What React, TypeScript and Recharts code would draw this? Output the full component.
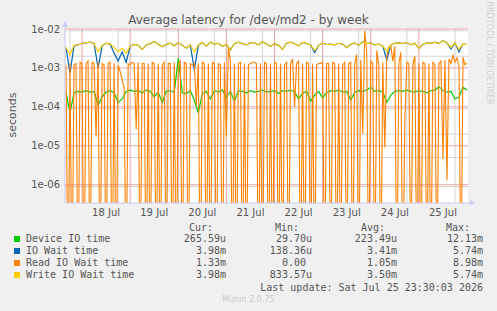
import { LineChart, Line, XAxis, YAxis, CartesianGrid } from "recharts";

// hours are counted from 18 Jul 00:00
const START_HOUR = -8;
const dayLabels = ["18 Jul", "19 Jul", "20 Jul", "21 Jul", "22 Jul", "23 Jul", "24 Jul", "25 Jul"];
const yTicks = [1e-6, 1e-5, 1e-4, 1e-3, 1e-2];

// 2-hour samples
const deviceIO = [
  2.4e-4, 7e-5, 2.3e-4, 2.5e-4, 2.4e-4, 2.6e-4, 2.4e-4, 2.5e-4, 1.1e-4, 1.8e-4,
  2.4e-4, 2.6e-4, 2.3e-4, 1.3e-4, 1.6e-4, 2.5e-4, 2.7e-4, 2.5e-4, 2.6e-4, 2.3e-4,
  2.7e-4, 2.5e-4, 1.8e-4, 2.4e-4, 1.3e-4, 2.5e-4, 2.6e-4, 2.4e-4, 1.8e-3, 2.3e-4,
  2.2e-4, 2.6e-4, 1.5e-4, 7e-5, 2.2e-4, 2.5e-4, 1.6e-4, 2.6e-4, 2.4e-4, 2.7e-4,
  1.8e-4, 2.5e-4, 1.4e-4, 2.6e-4, 2.5e-4, 2.3e-4, 2.6e-4, 2.4e-4, 2.5e-4, 2.7e-4,
  2.4e-4, 2.5e-4, 2.6e-4, 2.2e-4, 2.6e-4, 2.5e-4, 2.7e-4, 2.4e-4, 1.6e-4, 2.2e-4,
  2.5e-4, 1.4e-4, 2.0e-4, 2.5e-4, 1.7e-4, 2.3e-4, 2.6e-4, 2.5e-4, 2.7e-4, 2.4e-4,
  2.5e-4, 1.5e-4, 2.3e-4, 2.6e-4, 2.5e-4, 2.7e-4, 3.2e-4, 2.5e-4, 2.6e-4, 2.4e-4,
  1.3e-4, 2.0e-4, 2.5e-4, 2.6e-4, 2.5e-4, 2.7e-4, 2.5e-4, 2.4e-4, 2.6e-4, 2.5e-4,
  2.3e-4, 2.6e-4, 2.7e-4, 3.3e-4, 2.6e-4, 2.4e-4, 2.5e-4, 1.6e-4, 1.8e-4, 3.2e-4,
  2.7e-4,
];

const ioWait = [
  3.3e-3, 7.5e-4, 3.7e-3, 3.9e-3, 4.3e-3, 4.4e-3, 4.6e-3, 4.2e-3, 1.0e-3, 3.7e-3,
  4.3e-3, 4.1e-3, 2.4e-3, 1.5e-3, 2.6e-3, 1.4e-3, 3.6e-3, 4.0e-3, 3.8e-3, 3.0e-3,
  3.9e-3, 4.2e-3, 4.8e-3, 4.1e-3, 3.5e-3, 4.0e-3, 4.3e-3, 3.7e-3, 4.4e-3, 3.8e-3,
  3.2e-3, 3.9e-3, 9e-4, 3.8e-3, 4.5e-3, 3.6e-3, 4.6e-3, 4.1e-3, 4.3e-3, 3.6e-3,
  4.0e-3, 2.9e-3, 4.2e-3, 4.6e-3, 4.2e-3, 3.9e-3, 4.4e-3, 4.5e-3, 3.9e-3, 4.7e-3,
  4.1e-3, 3.6e-3, 4.2e-3, 3.8e-3, 3.0e-3, 4.3e-3, 4.6e-3, 4.1e-3, 3.7e-3, 4.5e-3,
  4.2e-3, 3.9e-3, 2.5e-3, 3.8e-3, 4.4e-3, 4.0e-3, 4.1e-3, 3.9e-3, 4.3e-3, 4.1e-3,
  3.3e-3, 4.0e-3, 4.4e-3, 3.8e-3, 4.7e-3, 4.2e-3, 4.4e-3, 3.9e-3, 4.1e-3, 3.6e-3,
  1.6e-3, 3.9e-3, 4.3e-3, 4.4e-3, 4.2e-3, 4.5e-3, 3.9e-3, 4.3e-3, 3.2e-3, 4.0e-3,
  4.4e-3, 4.3e-3, 4.6e-3, 4.2e-3, 5.0e-3, 4.4e-3, 3.1e-3, 4.4e-3, 2.6e-3, 4.1e-3,
  4.0e-3,
];

const writeIO = [
  3.4e-3, 2.2e-3, 3.8e-3, 3.9e-3, 4.3e-3, 4.4e-3, 4.6e-3, 4.2e-3, 2.6e-3, 3.8e-3,
  4.3e-3, 4.1e-3, 3.4e-3, 2.6e-3, 3.2e-3, 2.4e-3, 3.6e-3, 4.0e-3, 3.8e-3, 3.0e-3,
  3.9e-3, 4.2e-3, 4.8e-3, 4.1e-3, 3.5e-3, 4.0e-3, 4.3e-3, 3.7e-3, 4.4e-3, 3.8e-3,
  3.2e-3, 3.9e-3, 2.6e-3, 3.9e-3, 4.5e-3, 3.6e-3, 4.6e-3, 4.1e-3, 4.3e-3, 3.6e-3,
  4.0e-3, 2.9e-3, 4.2e-3, 4.6e-3, 4.2e-3, 3.9e-3, 4.4e-3, 4.5e-3, 3.9e-3, 4.7e-3,
  4.1e-3, 3.6e-3, 4.2e-3, 3.8e-3, 3.0e-3, 4.3e-3, 4.6e-3, 4.1e-3, 3.7e-3, 4.5e-3,
  4.2e-3, 3.9e-3, 2.8e-3, 3.8e-3, 4.4e-3, 4.0e-3, 4.1e-3, 3.9e-3, 4.3e-3, 4.1e-3,
  3.3e-3, 4.0e-3, 4.4e-3, 3.8e-3, 4.7e-3, 4.2e-3, 4.4e-3, 3.9e-3, 4.1e-3, 3.6e-3,
  2.7e-3, 3.9e-3, 4.3e-3, 4.4e-3, 4.2e-3, 4.5e-3, 3.9e-3, 4.3e-3, 3.2e-3, 4.0e-3,
  4.4e-3, 4.3e-3, 4.6e-3, 4.2e-3, 5.0e-3, 4.4e-3, 3.4e-3, 4.4e-3, 3.0e-3, 4.1e-3,
  4.0e-3,
];

// 1-hour samples
const readIO = [
  1.2e-3, 0, 1.3e-3, 0, 1.2e-3, 1.3e-3, 0, 1.4e-3, 1.3e-3, 0, 1.3e-3, 1.5e-3, 0, 1.4e-3, 1.3e-3, 1.7e-5, 1.4e-3, 0, 1.3e-3, 1.2e-3,
  0, 1.3e-3, 1.4e-3, 0, 1.3e-3, 0, 1.2e-3, 8e-4, 5e-4, 3e-4, 0, 1.3e-3, 1.2e-3, 1.4e-3, 1.3e-3, 2.6e-5, 1.4e-3, 0, 1.3e-3, 1.3e-3,
  0, 1.3e-3, 0, 1.4e-3, 1.3e-3, 0, 1.3e-3, 0, 1.2e-3, 1.4e-3, 0, 1.3e-3, 1.3e-3, 0, 1.4e-3, 0, 1.3e-3, 1.5e-3, 0, 1.4e-3,
  1.3e-3, 0, 1.3e-3, 1.2e-3, 1.3e-3, 1.1e-4, 1.3e-3, 0, 1.4e-3, 1.3e-3, 0, 1.3e-3, 0, 1.4e-3, 1.3e-3, 0, 1.3e-3, 1.2e-3, 0, 1.4e-3,
  1.7e-5, 3.5e-3, 1.5e-3, 0, 1.3e-3, 0, 1.3e-3, 1.4e-3, 0, 1.3e-3, 0, 1.2e-3, 1.3e-3, 1.4e-3, 1.4e-3, 1.3e-3, 0, 1.3e-3, 0, 1.4e-3,
  1.3e-3, 0, 1.3e-3, 0, 1.4e-3, 1.3e-3, 0, 1.3e-3, 0, 1.2e-3, 1.4e-3, 0, 1.3e-3, 1.7e-3, 1.0e-4, 1.3e-3, 1.5e-3, 0, 1.3e-3, 0,
  1.4e-3, 1.3e-3, 0, 1.3e-3, 0, 1.2e-3, 1.3e-3, 1.3e-3, 1.4e-3, 0, 1.3e-3, 1.3e-3, 0, 1.4e-3, 1.3e-3, 0, 1.3e-3, 0, 1.2e-3, 1.4e-3,
  0, 1.3e-3, 1.4e-3, 0, 1.3e-3, 2.2e-3, 0, 1.6e-3, 2.0e-5, 8.9e-3, 2.5e-3, 0, 1.5e-3, 1.3e-3, 0, 2.8e-3, 1.2e-3, 0, 1.4e-3, 9e-6,
  2.0e-3, 3.5e-3, 3.8e-3, 1.5e-3, 3.6e-3, 0, 1.3e-3, 2.5e-3, 0, 4.6e-5, 1.4e-3, 1.3e-3, 0, 1.2e-3, 2.0e-3, 0, 1.3e-3, 0, 1.4e-3, 1.3e-3,
  0, 1.3e-3, 0, 1.4e-3, 1.2e-3, 0, 1.3e-3, 1.5e-3, 4.6e-6, 1.6e-3, 1.3e-6, 1.7e-3, 1.3e-3, 2.1e-3, 1.4e-3, 1.8e-3, 1.1e-3, 0, 1.9e-3, 1.2e-3,
  1.33e-3,
];

const legendRows = [
  { name: "Device IO time", color: "#00cc00", cur: "265.59u", min: "29.70u", avg: "223.49u", max: "12.13m" },
  { name: "IO Wait time", color: "#0066b3", cur: "3.98m", min: "138.36u", avg: "3.41m", max: "5.74m" },
  { name: "Read IO Wait time", color: "#ff8000", cur: "1.33m", min: "0.00 ", avg: "1.05m", max: "8.98m" },
  { name: "Write IO Wait time", color: "#ffcc00", cur: "3.98m", min: "833.57u", avg: "3.50m", max: "5.74m" },
];

const FLOOR = 1e-9; // zero can't go on a log axis, push it off the bottom
const Y_MIN = 3.4e-7;
const X_DOMAIN = [-8.5, 192.5];

// one row per hour; the 2-hour series fill every other row
const table = readIO.map((v, i) => {
  const row: Record<string, number> = { h: START_HOUR + i, rd: v > 0 ? v : FLOOR };
  if (i % 2 === 0) {
    row.dev = deviceIO[i / 2];
    row.io = ioWait[i / 2];
    row.wr = writeIO[i / 2];
  }
  return row;
});

const minorY: number[] = [];
for (let d = -7; d <= -3; d++) {
  for (let m = 2; m <= 9; m++) {
    const v = m * Math.pow(10, d);
    if (v > Y_MIN && v < 1e-2) minorY.push(v);
  }
}
const minorX: number[] = [];
for (let h = -6; h <= 192; h += 6) if (h % 24 !== 0) minorX.push(h);
const majorX = dayLabels.map((_, i) => i * 24);
const labelX = dayLabels.map((_, i) => i * 24 + 12);

const fmtY = (v: number) => "1e-" + String(Math.round(-Math.log10(v))).padStart(2, "0");
const fmtX = (v: number) => dayLabels[Math.round((v - 12) / 24)] ?? "";

const sans = "'DejaVu Sans', sans-serif";
const mono = "'DejaVu Sans Mono', monospace";
const txt = "#555";

function Cell({ right, top, text }: { right: number; top: number; text: string }) {
  return (
    <div style={{ position: "absolute", right: 497 - right, top, whiteSpace: "pre", lineHeight: "12px" }}>{text}</div>
  );
}

export default function App() {
  const rowTop = [233, 245, 257, 269];
  return (
    <div style={{ position: "absolute", left: 0, top: 0, width: 497, height: 311, background: "#f0f0f0", overflow: "hidden" }}>
      <LineChart width={497} height={311} data={table} margin={{ top: 29, right: 29, bottom: 0, left: 0 }}>
        <CartesianGrid fill="#ffffff" stroke="#d4d4d4" horizontalValues={minorY} verticalValues={minorX} />
        <CartesianGrid stroke="#e6a4a4" horizontalValues={yTicks} verticalValues={majorX} />
        <XAxis
          dataKey="h"
          type="number"
          domain={X_DOMAIN}
          ticks={labelX}
          tickFormatter={fmtX}
          height={108}
          tickLine={false}
          tickSize={6}
          tickMargin={0}
          axisLine={{ stroke: "#c8c8f0" }}
          tick={{ fill: txt, fontSize: 10, fontFamily: sans }}
        />
        <YAxis
          scale="log"
          domain={[Y_MIN, 1e-2]}
          allowDataOverflow
          ticks={yTicks}
          tickFormatter={fmtY}
          width={65}
          tickLine={false}
          tickSize={5}
          tickMargin={0}
          axisLine={{ stroke: "#c8c8f0" }}
          tick={{ fill: txt, fontSize: 10, fontFamily: sans }}
        />
        <Line dataKey="dev" connectNulls stroke="#00cc00" strokeWidth={1.2} dot={false} isAnimationActive={false} />
        <Line dataKey="io" connectNulls stroke="#0066b3" strokeWidth={1.2} dot={false} isAnimationActive={false} />
        <Line dataKey="rd" stroke="#ff8000" strokeWidth={1.1} dot={false} isAnimationActive={false} />
        <Line dataKey="wr" connectNulls stroke="#ffcc00" strokeWidth={1.2} dot={false} isAnimationActive={false} />
      </LineChart>

      <svg width={497} height={311} style={{ position: "absolute", left: 0, top: 0, pointerEvents: "none" }}>
        <line x1={65} y1={29} x2={65} y2={23} stroke="#c8c8f0" />
        <polygon points="62,27 68,27 65,21" fill="#c8d0f8" />
        <line x1={468} y1={203} x2={472} y2={203} stroke="#c8c8f0" />
        <polygon points="470,200 470,206 475,203" fill="#c8d0f8" />
      </svg>

      <div style={{ position: "absolute", left: 0, width: 497, top: 13, textAlign: "center", fontFamily: sans, fontSize: 12, color: "#555" }}>
        Average latency for /dev/md2 - by week
      </div>
      <div style={{ position: "absolute", left: 12, top: 115, transform: "translate(-50%, -50%) rotate(-90deg)", fontFamily: sans, fontSize: 11, color: txt, whiteSpace: "nowrap" }}>
        seconds
      </div>
      <div style={{ position: "absolute", left: 489, top: 53, transform: "translate(-50%, -50%) rotate(90deg)", fontFamily: sans, fontSize: 8, color: "#cfcfcf", whiteSpace: "nowrap" }}>
        RRDTOOL / TOBI OETIKER
      </div>

      <div style={{ position: "absolute", left: 0, top: 0, width: 497, height: 311, fontFamily: mono, fontSize: 10, color: txt }}>
        <Cell right={213} top={222} text="Cur:" />
        <Cell right={299} top={222} text="Min:" />
        <Cell right={385} top={222} text="Avg:" />
        <Cell right={470} top={222} text="Max:" />
        {legendRows.map((r, i) => (
          <div key={r.name}>
            <div style={{ position: "absolute", left: 14, top: rowTop[i] + 3, width: 6, height: 6, background: r.color }} />
            <div style={{ position: "absolute", left: 26, top: rowTop[i], whiteSpace: "pre", lineHeight: "12px" }}>{r.name}</div>
            <Cell right={226} top={rowTop[i]} text={r.cur} />
            <Cell right={312} top={rowTop[i]} text={r.min} />
            <Cell right={397} top={rowTop[i]} text={r.avg} />
            <Cell right={483} top={rowTop[i]} text={r.max} />
          </div>
        ))}
        <Cell right={483} top={282} text="Last update: Sat Jul 25 23:30:03 2026" />
      </div>
      <div style={{ position: "absolute", left: 0, width: 497, top: 295, textAlign: "center", fontFamily: sans, fontSize: 8, color: "#c8c8c8" }}>
        Munin 2.0.75
      </div>
    </div>
  );
}
